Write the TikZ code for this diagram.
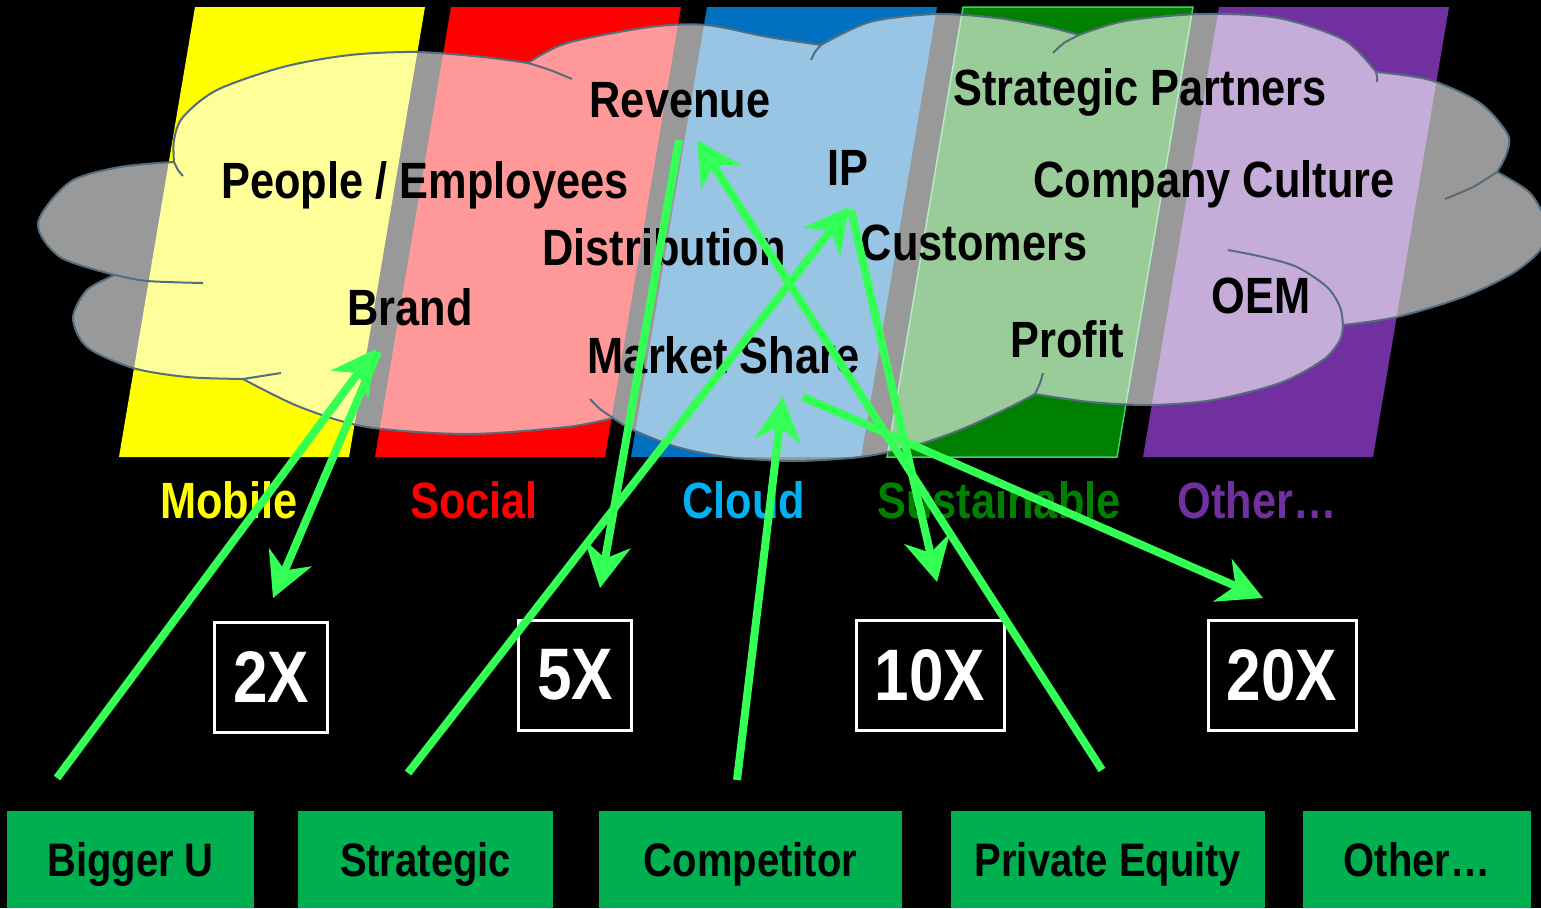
\documentclass[tikz,border=0pt]{standalone}
\usepackage{fontspec}
\usepackage{tikz}
\usetikzlibrary{arrows.meta}
\newfontfamily\narrowsans{Liberation Sans}[FakeStretch=0.85]

\definecolor{laneyellow}{RGB}{255,255,0}
\definecolor{lanered}{RGB}{255,0,0}
\definecolor{laneblue}{RGB}{0,112,192}
\definecolor{lanegreen}{RGB}{0,128,0}
\definecolor{laneedge}{RGB}{60,210,110}
\definecolor{lanepurple}{RGB}{112,48,160}
\definecolor{cloudblue}{RGB}{0,176,240}
\definecolor{cloudedge}{RGB}{85,108,125}
\definecolor{linkgreen}{RGB}{51,255,85}
\definecolor{buyergreen}{RGB}{0,176,80}

\begin{document}
\begin{tikzpicture}[x=1pt, y=-1pt,
    word/.style = {font=\narrowsans\bfseries\fontsize{51}{60}\selectfont, anchor=base, inner sep=0pt},
    mult/.style = {draw=white, line width=3pt, fill=black, text=white, minimum height=110pt, inner sep=0pt, font=\narrowsans\bfseries\fontsize{73}{80}\selectfont},
    buyer/.style = {fill=buyergreen, minimum height=97pt, inner sep=0pt, text height=34pt, text depth=0pt, font=\narrowsans\bfseries\fontsize{47}{56}\selectfont},
    edge/.style = {draw=cloudedge, line width=2pt},
    link/.style = {draw=linkgreen, line width=8pt, -{Stealth[length=44pt, width=46pt, inset=14pt]}}]

    \fill[black] (0,0) rectangle (1541,908);
    \useasboundingbox (0,0) rectangle (1541,908);

    % lanes
    \fill[laneyellow] (195,7) -- (425,7) -- (349,457) -- (119,457) -- cycle;
    \fill[lanered] (451,7) -- (681,7) -- (605,457) -- (375,457) -- cycle;
    \fill[laneblue] (707,7) -- (937,7) -- (861,457) -- (631,457) -- cycle;
    \filldraw[fill=lanegreen, draw=laneedge, line width=1.5pt] (963,7) -- (1193,7) -- (1117,457) -- (887,457) -- cycle;
    \fill[lanepurple] (1219,7) -- (1449,7) -- (1373,457) -- (1143,457) -- cycle;

    % cloud
    \path[edge, fill=white, fill opacity=0.6]
        plot[smooth] coordinates {(174,162) (174,140) (183,117) (217,90) (283,67) (350,55) (417,52) (483,57) (528,63)}
        -- plot[smooth] coordinates {(528,63) (567,43) (650,27) (706,25) (768,37) (821,45)}
        -- plot[smooth] coordinates {(821,45) (870,22) (936,14) (997,18) (1048,27) (1079,35)}
        -- plot[smooth] coordinates {(1079,35) (1125,21) (1201,14) (1278,18) (1344,40) (1376,72)}
        -- plot[smooth] coordinates {(1376,72) (1430,80) (1480,103) (1508,135) (1506,155) (1497,172)}
        -- plot[smooth] coordinates {(1497,172) (1530,193) (1547,225) (1541,249) (1513,273) (1463,297) (1397,317) (1343,325)}
        -- plot[smooth] coordinates {(1343,325) (1340,340) (1323,360) (1280,383) (1213,400) (1151,405) (1090,402) (1035,394)}
        -- plot[smooth] coordinates {(1035,394) (1010,407) (960,430) (910,447) (860,457) (793,461) (727,457) (677,447) (633,430) (613,418)}
        -- plot[smooth] coordinates {(613,418) (567,427) (467,434) (367,427) (300,407) (243,379)}
        -- plot[smooth] coordinates {(243,379) (187,377) (133,368) (87,347) (73,318) (87,290) (115,275)}
        -- plot[smooth] coordinates {(115,275) (60,257) (38,223) (70,182) (120,167) (174,162)}
        -- cycle;
    \draw[edge] plot[smooth] coordinates {(174,162) (178,170) (183,176)};
    \draw[edge] plot[smooth] coordinates {(528,63) (550,70) (572,79)};
    \draw[edge] plot[smooth] coordinates {(821,45) (815,52) (811,60)};
    \draw[edge] plot[smooth] coordinates {(1079,35) (1064,43) (1053,53)};
    \draw[edge] plot[smooth] coordinates {(1376,72) (1377,77) (1377,82)};
    \draw[edge] plot[smooth] coordinates {(1497,172) (1473,187) (1445,199)};
    \draw[edge] plot[smooth] coordinates {(1343,325) (1340,307) (1327,287) (1297,267) (1263,257) (1228,250)};
    \draw[edge] plot[smooth] coordinates {(1035,394) (1040,383) (1043,373)};
    \draw[edge] plot[smooth] coordinates {(613,418) (600,409) (590,399)};
    \draw[edge] plot[smooth] coordinates {(243,379) (262,376) (281,373)};
    \draw[edge] plot[smooth] coordinates {(115,275) (147,281) (203,283)};

    % words in the cloud
    \node[word] (ppl) at (425,198) {People / Employees};
    \node[word] (rev) at (680,117) {Revenue};
    \node[word] (dist) at (664,265) {Distribution};
    \node[word] (brand) at (410,325) {Brand};
    \node[word] (mshare) at (724,373) {Market Share};
    \node[word] (ip) at (848,185) {IP};
    \node[word] (cust) at (974,260) {Customers};
    \node[word] (spart) at (1140,105) {Strategic Partners};
    \node[word] (culture) at (1214,197) {Company Culture};
    \node[word] (oem) at (1261,313) {OEM};
    \node[word] (profit) at (1067,357) {Profit};

    % lane names
    \node[word, text=laneyellow] (mobile) at (229,518) {Mobile};
    \node[word, text=lanered] (social) at (474,518) {Social};
    \node[word, text=cloudblue] (cloud) at (744,518) {Cloud};
    \node[word, text=lanegreen] (sust) at (999,518) {Sustainable};
    \node[word, text=lanepurple] (other) at (1257,518) {Other\dots};

    % multiples
    \node[mult, minimum width=113pt] (x2) at (271,677) {2X};
    \node[mult, minimum width=113pt] (x5) at (575,675) {5X};
    \node[mult, minimum width=148pt] (x10) at (930,675) {10X};
    \node[mult, minimum width=148pt] (x20) at (1282,675) {20X};

    % buyers
    \node[buyer, minimum width=247pt] (bigger) at (130.5,859.5) {Bigger U};
    \node[buyer, minimum width=255pt] (strat) at (425.5,859.5) {Strategic};
    \node[buyer, minimum width=303pt] (comp) at (750.5,859.5) {Competitor};
    \node[buyer, minimum width=314pt] (pe) at (1108,859.5) {Private Equity};
    \node[buyer, minimum width=228pt] (otherb) at (1417,859.5) {Other\dots};

    % arrow ends
    \coordinate (bu) at (57,778);
    \coordinate (st) at (408,773);
    \coordinate (co) at (737,780);
    \coordinate (eq) at (1102,770);
    \coordinate (brtip) at (376,349);
    \coordinate (brout) at (378,352);
    \coordinate (revtip) at (697,140);
    \coordinate (revout) at (679,140);
    \coordinate (iptip) at (849,207);
    \coordinate (ipout) at (851,210);
    \coordinate (mstip) at (783,397);
    \coordinate (msout) at (803,397);
    \coordinate (x2tip) at (273,598);
    \coordinate (x5tip) at (600,588);
    \coordinate (x10tip) at (937,582);
    \coordinate (x20tip) at (1263,598);

    \draw[link] (bu) -- (brtip);
    \draw[link] (brout) -- (x2tip);
    \draw[link] (revout) -- (x5tip);
    \draw[link] (eq) -- (revtip);
    \draw[link] (st) -- (iptip);
    \draw[link] (ipout) -- (x10tip);
    \draw[link] (co) -- (mstip);
    \draw[link] (msout) -- (x20tip);
\end{tikzpicture}
\end{document}
